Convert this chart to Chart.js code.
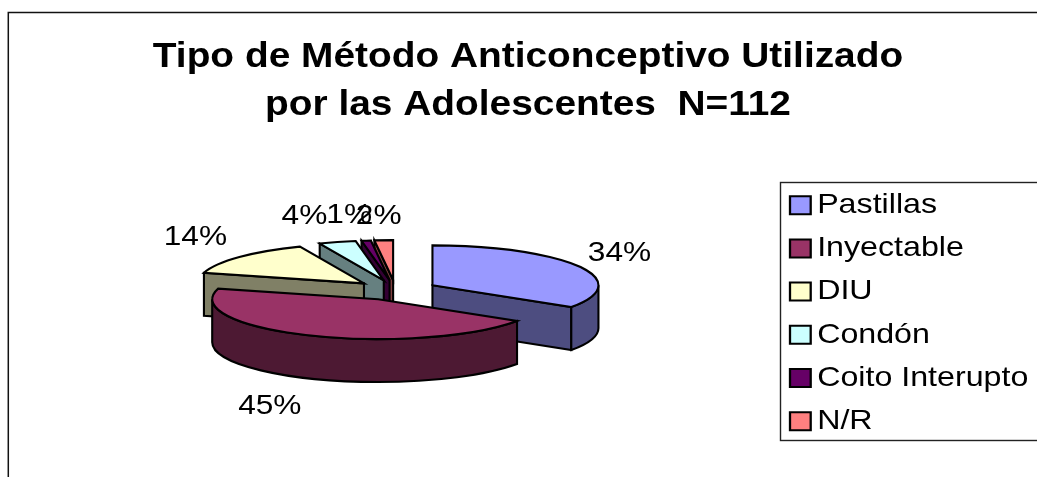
<!DOCTYPE html>
<html><head><meta charset="utf-8">
<style>html,body{margin:0;padding:0;background:#fff;overflow:hidden}canvas{display:block}</style>
<script src="https://cdn.jsdelivr.net/npm/chart.js@4"></script>
</head><body><canvas id="c" width="1037" height="477"></canvas>
<script>
const categories = ['Pastillas','Inyectable','DIU','Condón','Coito Interupto','N/R'];
const counts = [38,50,16,4,1,2];
const titleLines = ['Tipo de Método Anticonceptivo Utilizado','por las Adolescentes  N=112'];
const topColors = ['#9999FF','#993366','#FFFFCC','#CCFFFF','#660066','#FF8080'];
const wallColors = ['#4D4D80','#4D1933','#808066','#668080','#330033','#804040'];
const paintOrder = [5,4,3,2,0,1];
const labelNudges = [[41,-13],[-40,71],[-44,-20],[-33,-26],[-17,-25],[-5,-24]];
const FONT='"Liberation Sans", Arial, sans-serif';
const PIE = {cx:395.5, cy:290, r:166, k:0.24, depth:43, explode:42};
const LEGEND = {left:780, top:182, bottom:440, swatchX:790, textShift:-8.4};
const STRETCH = 1.15, TITLE_STRETCH = 1.11, LABEL_STRETCH = 1.13;

// the reference's text is horizontally stretched: scale each text block about an anchor
function stretched(el, anchor, stretch, shift){
  const orig = el.draw.bind(el);
  el.draw = function(area){
    const c=el.ctx; c.save();
    c.translate(anchor(),0); c.scale(stretch,1); c.translate(-anchor(),0);
    if(shift){
      const ft=c.fillText; c.fillText=function(t,x,y,m){ return m===undefined?ft.call(c,t,x+shift,y):ft.call(c,t,x+shift,y,m); };
      orig(area); delete c.fillText;
    } else orig(area);
    c.restore();
  };
}
const frame3d = {
  id:'frame3d',
  beforeDraw(chart){
    const c=chart.ctx; c.save();
    c.strokeStyle='#111'; c.lineWidth=1.5; c.strokeRect(8.3,12.5,1200,800);
    c.strokeStyle='#222'; c.lineWidth=1.4; c.strokeRect(LEGEND.left+.5,LEGEND.top+.5,500,LEGEND.bottom-LEGEND.top);
    c.restore();
  },
  afterLayout(chart){
    const l=chart.legend, pad=l.options.labels.padding;
    l.left=LEGEND.swatchX-pad; l.right=l.left+300; l.top=LEGEND.top-6; l.bottom=l.top+290;
    if(!l._w){l._w=true;
      stretched(l,()=>LEGEND.swatchX,STRETCH,LEGEND.textShift);
      const tb=chart.titleBlock; stretched(tb,()=>tb.left+tb.width/2,TITLE_STRETCH);
    }
  },
  beforeDatasetsDraw(chart){
    const c=chart.ctx, arcs=chart.getDatasetMeta(0).data, total=counts.reduce((a,b)=>a+b,0);
    const {r,k,depth,explode}=PIE;
    const geo=arcs.map(a=>{
      const h=(a.startAngle+a.endAngle)/2;
      return {a, h, x:PIE.cx+Math.cos(h)*explode, y:PIE.cy+Math.sin(h)*explode*k};
    });
    c.save(); c.lineWidth=2.1; c.strokeStyle='#000'; c.lineJoin='miter';
    for(const i of paintOrder){
      const g=geo[i], s=g.a.startAngle, e=g.a.endAngle;
      c.fillStyle=wallColors[i];
      const walls=[]; if(Math.cos(s)<0) walls.push(s); if(Math.cos(e)>0) walls.push(e);
      for(const t of walls){
        const px=g.x+r*Math.cos(t), py=g.y+r*k*Math.sin(t);
        c.beginPath(); c.moveTo(g.x,g.y); c.lineTo(px,py); c.lineTo(px,py+depth); c.lineTo(g.x,g.y+depth); c.closePath(); c.fill(); c.stroke();
      }
      const ws=Math.max(s,0), we=Math.min(e,Math.PI);
      if(we>ws){
        c.beginPath(); c.ellipse(g.x,g.y,r,r*k,0,ws,we); c.ellipse(g.x,g.y+depth,r,r*k,0,we,ws,true); c.closePath(); c.fill(); c.stroke();
      }
      c.save(); c.translate(g.x,g.y); c.scale(1,k); c.translate(-g.a.x,-g.a.y); g.a.draw(c); c.restore();
      c.beginPath(); c.moveTo(g.x,g.y); c.ellipse(g.x,g.y,r,r*k,0,s,e); c.closePath(); c.stroke();
    }
    c.restore();
    geo.forEach((g,i)=>{
      const x=g.x+r*Math.cos(g.h)+labelNudges[i][0], y=g.y+r*k*Math.sin(g.h)+labelNudges[i][1];
      c.save(); c.fillStyle='#000'; c.font='28px '+FONT; c.textAlign='center'; c.textBaseline='middle';
      c.translate(x,y); c.scale(LABEL_STRETCH,1);
      c.fillText(Math.round(counts[i]/total*100)+'%',0,0);
      c.restore();
    });
    return false;
  }
};
new Chart(document.getElementById('c'),{
  type:'pie',
  data:{labels:categories,datasets:[{data:counts,backgroundColor:topColors,borderWidth:0}]},
  options:{
    responsive:false,animation:false,radius:PIE.r,
    layout:{padding:{left:19,right:0,top:0,bottom:0}},
    events:[],
    plugins:{
      tooltip:{enabled:false},
      title:{display:true,text:titleLines,color:'#000',padding:{top:33,bottom:10},
        font:{family:FONT,size:35,weight:'bold',lineHeight:1.37}},
      legend:{display:true,position:'right',align:'start',
        labels:{color:'#000',font:{family:FONT,size:28},boxWidth:18,boxHeight:18,padding:15.2,
          generateLabels(){return categories.map((t,i)=>({text:t,fillStyle:topColors[i],strokeStyle:'#000',lineWidth:2,index:i,hidden:false}));}}}
    }
  },
  plugins:[frame3d]
});
</script></body></html>
